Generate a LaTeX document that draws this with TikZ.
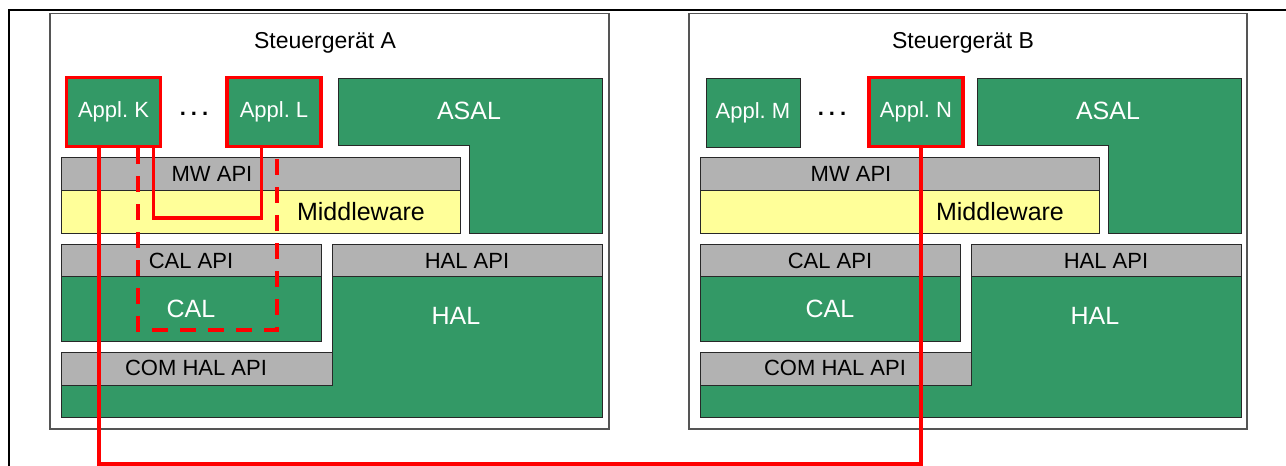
\documentclass[tikz,border=0pt]{standalone}
\usepackage{fontspec}
\setmainfont{Liberation Sans}
\definecolor{ecugreen}{RGB}{51,153,102}
\definecolor{apigray}{RGB}{178,178,178}
\definecolor{mwyellow}{RGB}{255,255,153}
\definecolor{edgedark}{RGB}{40,40,40}
\definecolor{ecuframe}{RGB}{85,85,85}
\definecolor{linkred}{RGB}{255,0,0}

% software layers of one control unit; #1 is the suffix for the node names
\newcommand\ecuLayers[1]{%
  \path[greenbox] (338,78) -- (602,78) -- (602,233) -- (469,233) -- (469,145) -- (338,145) -- cycle;
  \node[biglbl, text=white] (asal#1) at (469,111) {ASAL};
  \path[mwbox] (61,190) rectangle (460,233);
  \path[apibox] (61,157) rectangle (460,190);
  \node[lbl] (mwapi#1) at (212,174) {MW API};
  \node[biglbl] (mw#1) at (361,212) {Middleware};
  \path[greenbox] (61,276) rectangle (321,341);
  \path[apibox] (61,244) rectangle (321,276);
  \node[lbl] (calapi#1) at (191,261) {CAL API};
  \node[biglbl, text=white] (cal#1) at (191,309) {CAL};
  \path[greenbox] (332,276) -- (602,276) -- (602,417) -- (61,417) -- (61,385) -- (332,385) -- cycle;
  \path[apibox] (332,244) rectangle (602,276);
  \node[lbl] (halapi#1) at (467,261) {HAL API};
  \node[biglbl, text=white] (hal#1) at (456,316) {HAL};
  \path[apibox] (61,352) rectangle (332,385);
  \node[lbl] (comhalapi#1) at (196,368) {COM HAL API};
}

\begin{document}
\begin{tikzpicture}[x=1pt, y=-1pt,
  ecu/.style={draw=ecuframe, line width=1.5pt, fill=white},
  greenbox/.style={fill=ecugreen, draw=edgedark, line width=1pt},
  apibox/.style={fill=apigray, draw=edgedark, line width=1pt},
  mwbox/.style={fill=mwyellow, draw=edgedark, line width=1pt},
  lbl/.style={font=\fontsize{22}{25}\selectfont, text height=15.75pt, text depth=0pt, inner sep=0pt},
  biglbl/.style={font=\fontsize{25}{29}\selectfont, text height=17.9pt, text depth=0pt, inner sep=0pt},
  title/.style={font=\fontsize{23}{27}\selectfont, text height=16.5pt, text depth=0pt, inner sep=0pt},
  applbox/.style={greenbox, minimum width=94pt, minimum height=69pt, inner sep=0pt,
    text=white, font=\fontsize{22}{25}\selectfont},
  hot/.style={draw=linkred, line width=3.5pt},
  link/.style={draw=linkred, line width=3.5pt},
  linkdash/.style={link, dash pattern=on 16pt off 12pt},
  dots/.style={font=\bfseries\fontsize{22}{24}\selectfont, inner sep=0pt}]

\useasboundingbox (0,0) rectangle (1286,466);

% page frame
\draw[line width=2pt] (9,466) -- (9,10) -- (1286,10);

% control units
\path[ecu] (50,13.5) rectangle (609,429);
\path[ecu] (689,13.5) rectangle (1247,429);
\node[title] (ecuA) at (325,40) {Steuergerät A};
\node[title] (ecuB) at (963,40) {Steuergerät B};

\ecuLayers{A}
\begin{scope}[xshift=639pt]
  \ecuLayers{B}
\end{scope}

% applications
\node[applbox, hot] (applK) at (113.5,112) {Appl.\ K};
\node[applbox, hot] (applL) at (274,112) {Appl.\ L};
\node[applbox] (applM) at (753,112.5) {Appl.\ M};
\node[applbox, hot] (applN) at (916,112) {Appl.\ N};
\node[dots] (dotsA) at (194,114) {.\hspace{5pt}.\hspace{5pt}.};
\node[dots] (dotsB) at (832,114) {.\hspace{5pt}.\hspace{5pt}.};

% communication paths
\coordinate (loopMW) at (200,218);
\coordinate (loopCAL) at (200,330);
\coordinate (bus) at (500,464);
\draw[link] ([xshift=40pt]applK.south) |- (loopMW) -| ([xshift=-12.5pt]applL.south);
\draw[linkdash] ([xshift=24.5pt]applK.south) |- (loopCAL) -| ([xshift=3pt]applL.south);
\draw[link] ([xshift=-14.5pt]applK.south) |- (bus) -| ([xshift=5pt]applN.south);

% redraw the highlighted applications on top of the paths
\node[applbox, hot] at (applK) {Appl.\ K};
\node[applbox, hot] at (applL) {Appl.\ L};
\node[applbox, hot] at (applN) {Appl.\ N};
\end{tikzpicture}
\end{document}
